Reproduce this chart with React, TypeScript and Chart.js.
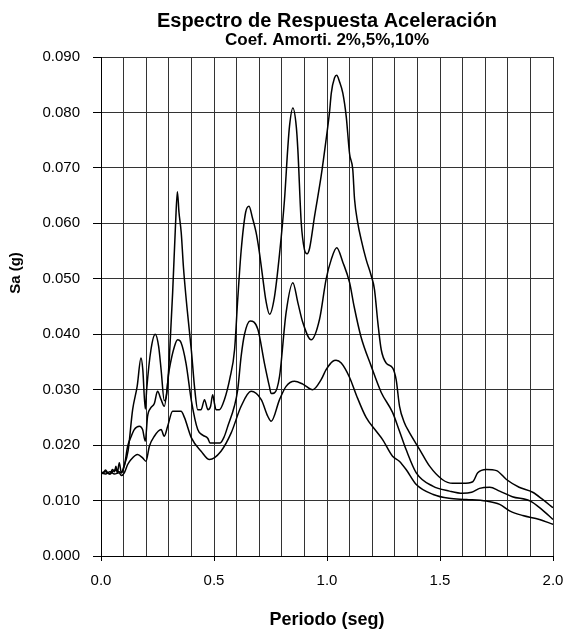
import React, { useEffect, useRef } from "react";
import { Chart, registerables } from "chart.js";
Chart.register(...registerables);

const FONT = "'Liberation Sans', Arial, sans-serif";

const titleText = "Espectro de Respuesta Aceleración";
const subtitleText = "Coef. Amorti. 2%,5%,10%";
const xTitle = "Periodo (seg)";
const yTitle = "Sa (g)";

const xLabelValues = [0, 0.5, 1.0, 1.5, 2.0];

// Coef. amortiguamiento 2%
const periods2 = [
  0.0, 0.01, 0.02, 0.03, 0.04, 0.05, 0.06, 0.066, 0.072, 0.081, 0.09, 0.1, 0.12, 0.14, 0.16, 0.177,
  0.185, 0.196, 0.202, 0.221, 0.24, 0.255, 0.266, 0.28, 0.29, 0.302, 0.317, 0.33, 0.338, 0.345,
  0.355, 0.365, 0.38, 0.4, 0.415, 0.428, 0.443, 0.458, 0.473, 0.485, 0.494, 0.502, 0.509, 0.524,
  0.546, 0.57, 0.591, 0.605, 0.62, 0.64, 0.655, 0.67, 0.686, 0.7, 0.715, 0.73, 0.746, 0.767,
  0.79, 0.812, 0.826, 0.834, 0.849, 0.864, 0.871, 0.886, 0.9, 0.912, 0.923, 0.945, 0.974, 0.996,
  1.011, 1.019, 1.033, 1.043, 1.055, 1.07, 1.085, 1.1, 1.114, 1.122, 1.136, 1.151, 1.173, 1.196,
  1.21, 1.225, 1.24, 1.262, 1.291, 1.306, 1.321, 1.343, 1.36, 1.41, 1.454, 1.51, 1.556, 1.6,
  1.645, 1.667, 1.705, 1.75, 1.794, 1.85, 1.91, 1.954, 2.0,
];
const sa2 = [
  0.0148, 0.015, 0.0155, 0.015, 0.0148, 0.0156, 0.0152, 0.0162, 0.015, 0.0168, 0.015, 0.016, 0.019,
  0.0264, 0.0306, 0.0357, 0.0336, 0.0265, 0.03, 0.0372, 0.04, 0.0378, 0.0336, 0.028, 0.029, 0.0354,
  0.0475, 0.06, 0.0657, 0.062, 0.0583, 0.052, 0.045, 0.037, 0.03, 0.0264, 0.0264, 0.0282, 0.0264,
  0.027, 0.0291, 0.0275, 0.0264, 0.0264, 0.0282, 0.032, 0.0372, 0.0463, 0.055, 0.062, 0.0631,
  0.061, 0.0584, 0.055, 0.0504, 0.046, 0.0436, 0.0466, 0.0545, 0.0643, 0.0733, 0.0775, 0.0808,
  0.0775, 0.0733, 0.0601, 0.0553, 0.0545, 0.0555, 0.0613, 0.0685, 0.0751, 0.08, 0.0835, 0.0862,
  0.0867, 0.0856, 0.0835, 0.0793, 0.0725, 0.0697, 0.0643, 0.0601, 0.0571, 0.0535, 0.0505, 0.0481,
  0.0421, 0.0372, 0.0348, 0.0339, 0.0318, 0.027, 0.024, 0.0226, 0.0192, 0.0162, 0.0138, 0.0131,
  0.0131, 0.0134, 0.015, 0.0156, 0.0154, 0.0138, 0.0124, 0.0115, 0.0102, 0.0087,
];

// Coef. amortiguamiento 5%
const periods5 = [
  0.0, 0.02, 0.04, 0.06, 0.08, 0.09, 0.103, 0.118, 0.133, 0.147, 0.17, 0.184, 0.196, 0.206, 0.22,
  0.236, 0.25, 0.266, 0.28, 0.302, 0.325, 0.339, 0.354, 0.376, 0.4, 0.428, 0.45, 0.473, 0.482,
  0.527, 0.545, 0.561, 0.59, 0.605, 0.62, 0.635, 0.66, 0.694, 0.723, 0.745, 0.753, 0.767, 0.79,
  0.819, 0.849, 0.871, 0.893, 0.93, 0.967, 0.996, 1.019, 1.043, 1.07, 1.1, 1.12, 1.15, 1.196, 1.24,
  1.29, 1.32, 1.35, 1.395, 1.468, 1.542, 1.6, 1.64, 1.675, 1.72, 1.764, 1.82, 1.9, 1.95, 2.0,
];
const sa5 = [
  0.015, 0.0152, 0.0148, 0.0155, 0.0152, 0.015, 0.0162, 0.0198, 0.0215, 0.0228, 0.0234, 0.0228,
  0.0207, 0.0252, 0.0267, 0.0275, 0.0297, 0.0282, 0.027, 0.0336, 0.0378, 0.039, 0.0385, 0.0348,
  0.028, 0.0228, 0.0218, 0.0212, 0.0204, 0.0204, 0.0215, 0.0234, 0.027, 0.03, 0.036, 0.04, 0.0424,
  0.0409, 0.0348, 0.0306, 0.0293, 0.0294, 0.0324, 0.0439, 0.0493, 0.0457, 0.0421, 0.039, 0.0427,
  0.0499, 0.0535, 0.0556, 0.053, 0.0493, 0.045, 0.0396, 0.0342, 0.0295, 0.0259, 0.0226, 0.0192,
  0.015, 0.0126, 0.0117, 0.0113, 0.0115, 0.0122, 0.0124, 0.0117, 0.0107, 0.0099, 0.0084, 0.0066,
];

// Coef. amortiguamiento 10%
const periods10 = [
  0.0, 0.02, 0.04, 0.06, 0.08, 0.09, 0.103, 0.118, 0.133, 0.162, 0.184, 0.199, 0.214, 0.236, 0.266,
  0.28, 0.295, 0.317, 0.354, 0.369, 0.4, 0.443, 0.48, 0.531, 0.576, 0.62, 0.664, 0.709, 0.738,
  0.753, 0.79, 0.819, 0.856, 0.893, 0.937, 0.974, 0.996, 1.025, 1.04, 1.063, 1.1, 1.13, 1.173,
  1.218, 1.246, 1.29, 1.32, 1.35, 1.395, 1.47, 1.54, 1.617, 1.705, 1.764, 1.81, 1.866, 1.94, 2.0,
];
const sa10 = [
  0.015, 0.0148, 0.0152, 0.0148, 0.015, 0.0145, 0.015, 0.0165, 0.0174, 0.0183, 0.0177, 0.0171,
  0.0198, 0.0216, 0.0228, 0.0216, 0.0234, 0.0261, 0.0261, 0.025, 0.0213, 0.0189, 0.0174, 0.0189,
  0.0222, 0.027, 0.0297, 0.0282, 0.0252, 0.0243, 0.0282, 0.0306, 0.0315, 0.031, 0.03, 0.0318,
  0.0336, 0.0351, 0.0353, 0.0348, 0.0322, 0.029, 0.025, 0.0225, 0.021, 0.018, 0.0171, 0.0156,
  0.0129, 0.0111, 0.0104, 0.0102, 0.0099, 0.0093, 0.0081, 0.0073, 0.0066, 0.0057,
];

const toPoints = (xs: number[], ys: number[]) => xs.map((x, i) => ({ x, y: ys[i] }));

export default function App() {
  const ref = useRef<HTMLCanvasElement>(null);
  useEffect(() => {
    if (!ref.current) return;
    const yTitlePlugin = {
      id: "yTitleCustom",
      afterDraw(chart: any) {
        const ctx = chart.ctx;
        ctx.save();
        ctx.translate(16, 273);
        ctx.rotate(-Math.PI / 2);
        ctx.font = `bold 15px ${FONT}`;
        ctx.fillStyle = "#000";
        ctx.textAlign = "center";
        ctx.textBaseline = "middle";
        ctx.fillText(yTitle, 0, 0);
        ctx.restore();
      },
    };
    const isLabelTick = (v: number) =>
      xLabelValues.some((l) => Math.abs(l - v) < 1e-6);
    const lineStyle = {
      showLine: true,
      borderColor: "#000",
      borderWidth: 1.5,
      pointRadius: 0,
      fill: false,
      cubicInterpolationMode: "monotone" as const,
    };
    const chart = new Chart(ref.current, {
      type: "scatter",
      data: {
        datasets: [
          { label: "2%", data: toPoints(periods2, sa2), ...lineStyle },
          { label: "5%", data: toPoints(periods5, sa5), ...lineStyle },
          { label: "10%", data: toPoints(periods10, sa10), ...lineStyle },
        ],
      },
      options: {
        responsive: false,
        animation: false,
        layout: { padding: { left: 0, right: 0, top: 0, bottom: 0 } },
        plugins: {
          legend: { display: false },
          tooltip: { enabled: false },
          title: {
            display: true,
            text: titleText,
            fullSize: false,
            color: "#000",
            font: { family: FONT, size: 20, weight: "bold", lineHeight: 1 },
            padding: { top: 11, bottom: 0 },
          },
          subtitle: {
            display: true,
            text: subtitleText,
            fullSize: false,
            color: "#000",
            font: { family: FONT, size: 17, weight: "bold", lineHeight: 1 },
            padding: { top: 1.3, bottom: 7.7 },
          },
        },
        scales: {
          x: {
            type: "linear",
            min: 0,
            max: 2,
            afterFit: (s: any) => {
              s.height = 79;
              s.paddingLeft = 0;
              s.paddingRight = 14;
            },
            ticks: {
              stepSize: 0.1,
              autoSkip: false,
              maxRotation: 0,
              padding: 11,
              color: "#000",
              font: { family: FONT, size: 15 },
              callback: (v: any) => (isLabelTick(Number(v)) ? Number(v).toFixed(1) : ""),
            },
            grid: {
              color: "#333",
              lineWidth: 1,
              tickLength: 5,
              tickColor: (c: any) =>
                c.tick && isLabelTick(c.tick.value) ? "#000" : "rgba(0,0,0,0)",
            },
            border: { color: "#000", width: 1 },
            title: {
              display: true,
              text: xTitle,
              color: "#000",
              font: { family: FONT, size: 18, weight: "bold" },
              padding: { top: 0, bottom: 4.2 },
            },
          },
          y: {
            type: "linear",
            min: 0,
            max: 0.09,
            afterFit: (s: any) => {
              s.width = 101;
            },
            ticks: {
              stepSize: 0.01,
              padding: 13,
              color: "#000",
              font: { family: FONT, size: 15 },
              callback: (v: any) => Number(v).toFixed(3),
            },
            grid: { color: "#333", lineWidth: 1, tickLength: 8, tickColor: "#000" },
            border: { color: "#000", width: 1 },
          },
        },
      },
      plugins: [yTitlePlugin],
    } as any);
    return () => chart.destroy();
  }, []);
  return (
    <div
      style={{
        position: "absolute",
        left: 0,
        top: 0,
        width: 567,
        height: 635,
        background: "#fff",
      }}
    >
      <canvas ref={ref} width={567} height={635} style={{ display: "block" }} />
    </div>
  );
}
